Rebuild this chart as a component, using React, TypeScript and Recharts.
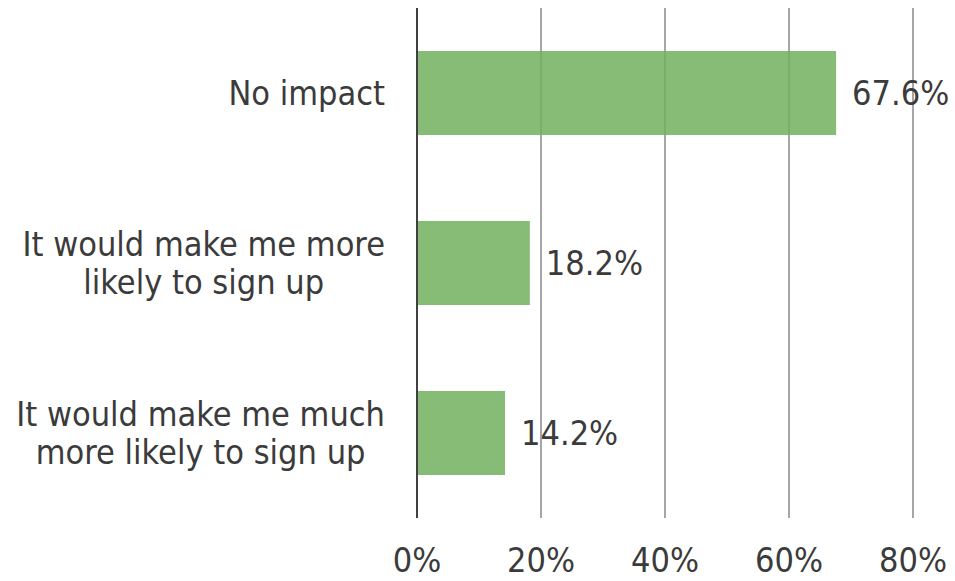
import React from "react";
import { BarChart, Bar, XAxis, YAxis, CartesianGrid, LabelList } from "recharts";

const categories = [
  "No impact",
  "It would make me more\nlikely to sign up",
  "It would make me much\nmore likely to sign up",
];
const shares = [67.6, 18.2, 14.2];
const xTicks = [0, 20, 40, 60, 80];

const data = categories.map((name, i) => ({ name, value: shares[i] }));

const fontFamily = "'DejaVu Sans Condensed', 'DejaVu Sans', sans-serif";
const fontSize = 34;
const textColor = "#3b3b3b";

let ctx: CanvasRenderingContext2D | null = null;
const measure = (s: string) => {
  if (!ctx) ctx = document.createElement("canvas").getContext("2d");
  if (!ctx) return s.length * fontSize * 0.5;
  ctx.font = `${fontSize}px ${fontFamily}`;
  return ctx.measureText(s).width;
};

// multi-line category label, lines centred on each other, block right-aligned
const CategoryTick = ({ x, y, payload }: any) => {
  const lines = String(payload.value).split("\n");
  const widest = Math.max(...lines.map(measure));
  const right = x - 24;
  const cx = right - widest / 2;
  const lineH = 38;
  const startDy = -((lines.length - 1) * lineH) / 2;
  return (
    <text
      x={cx}
      y={y}
      textAnchor="middle"
      dominantBaseline="central"
      fill={textColor}
      fontSize={fontSize}
      fontFamily={fontFamily}
    >
      {lines.map((l, i) => (
        <tspan key={i} x={cx} dy={i === 0 ? startDy : lineH}>
          {l}
        </tspan>
      ))}
    </text>
  );
};

export default function App() {
  return (
    <div style={{ position: "absolute", left: 0, top: 0, background: "#fff" }}>
      <BarChart
        width={955}
        height={581}
        data={data}
        layout="vertical"
        margin={{ top: 8, right: 42, bottom: 0, left: 0 }}
        barSize={84}
      >
        <CartesianGrid horizontal={false} stroke="#a6a6a6" strokeWidth={2} />
        <XAxis
          type="number"
          domain={[0, 80]}
          ticks={xTicks}
          tickFormatter={(v) => `${v}%`}
          axisLine={false}
          tickLine={false}
          height={63}
          tick={{ fill: textColor, fontSize, fontFamily }}
          tickMargin={24}
          interval={0}
        />
        <YAxis
          type="category"
          dataKey="name"
          width={417}
          axisLine={{ stroke: "#404040", strokeWidth: 2 }}
          tickLine={false}
          tick={<CategoryTick />}
          interval={0}
        />
        <Bar dataKey="value" fill="#71b05e" fillOpacity={0.85} isAnimationActive={false}>
          <LabelList
            dataKey="value"
            position="right"
            offset={16}
            formatter={(v: any) => `${Number(v).toFixed(1)}%`}
            fill={textColor}
            fontSize={fontSize}
            fontFamily={fontFamily}
          />
        </Bar>
      </BarChart>
    </div>
  );
}
